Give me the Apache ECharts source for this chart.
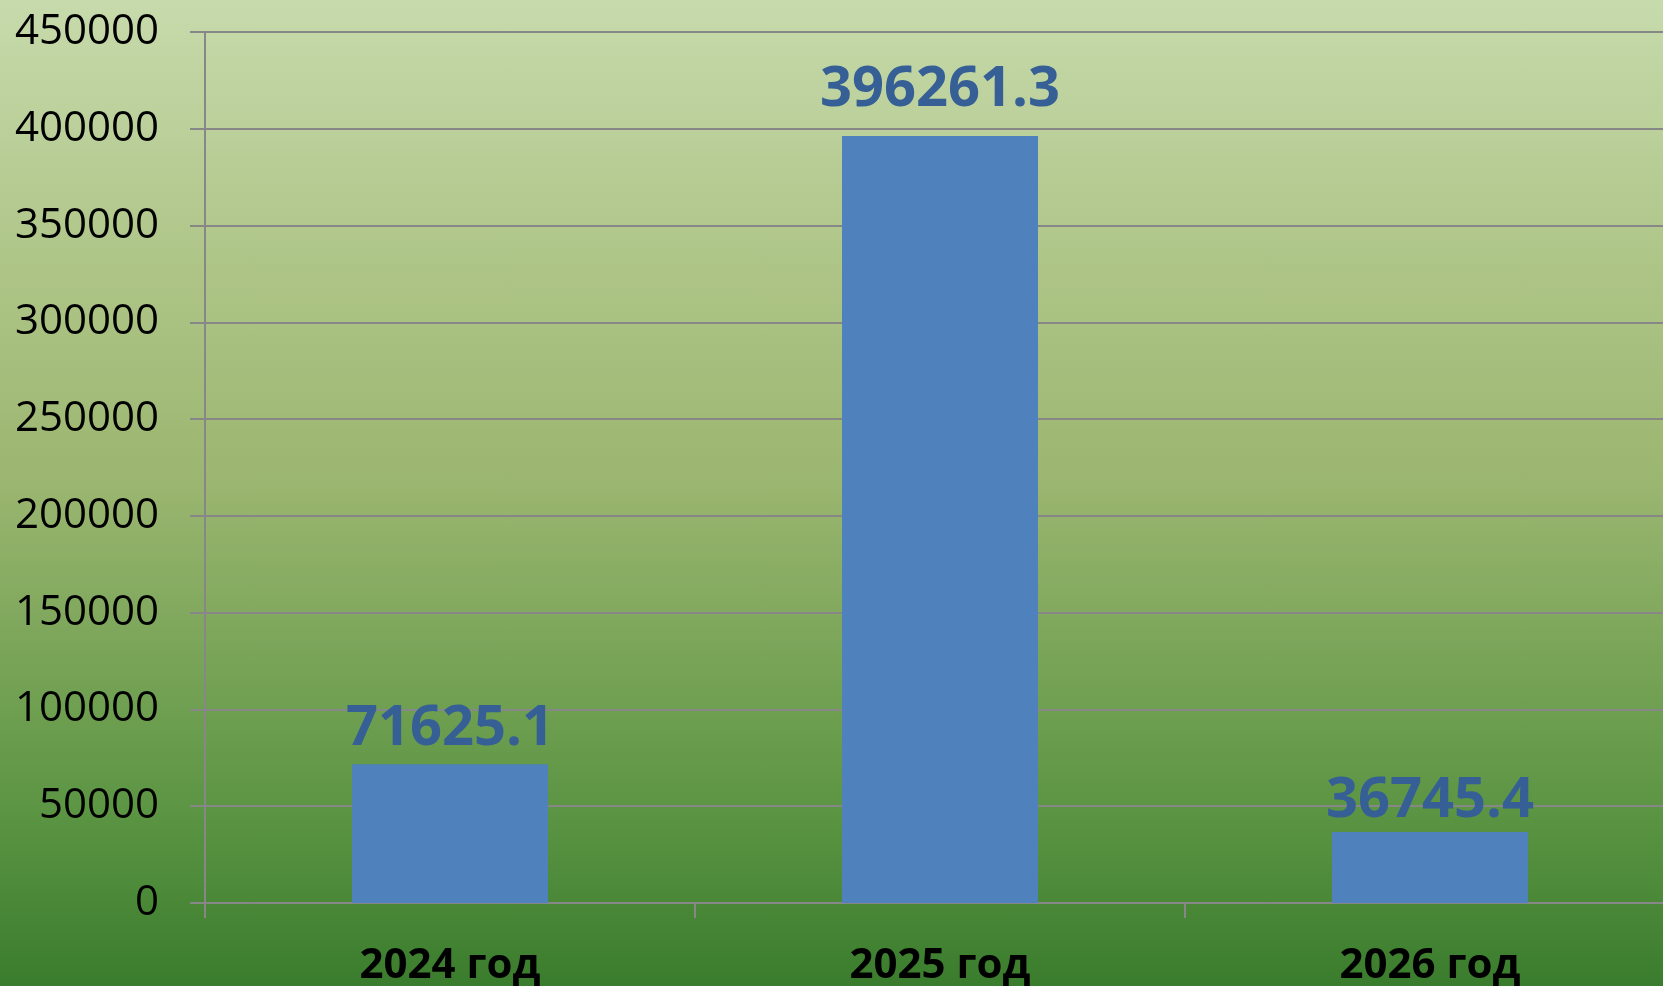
<!DOCTYPE html>
<html>
<head>
<meta charset="utf-8">
<script src="https://cdn.jsdelivr.net/npm/echarts@6/dist/echarts.min.js"></script>
<style>
html,body{margin:0;padding:0;}
#chart{width:1663px;height:986px;background:linear-gradient(to bottom,#c7daac 0%,#adc486 28%,#9bb670 49%,#7ea75c 64%,#5a9442 83%,#3a7c2d 100%);}
</style>
</head>
<body>
<div id="chart"></div>
<script>
const categories = ['2024 год', '2025 год', '2026 год'];
const values = [71625.1, 396261.3, 36745.4];
const yMin = 0, yMax = 450000, yInterval = 50000;

const labelGap = [7, 18, 3];

const chart = echarts.init(document.getElementById('chart'), null, {renderer: 'canvas'});
chart.setOption({
  backgroundColor: 'transparent',
  animation: false,
  grid: {left: 205, top: 32, bottom: 83, width: 1470, containLabel: false, outerBoundsMode: 'none'},
  xAxis: {
    type: 'category',
    data: categories,
    boundaryGap: true,
    axisLine: {show: true, lineStyle: {color: '#878787', width: 2}},
    axisTick: {show: true, length: 15, alignWithLabel: false, lineStyle: {color: '#878787', width: 2}},
    axisLabel: {fontFamily: 'Open Sans', fontWeight: 'bold', fontSize: 42, color: '#000', margin: 42, lineHeight: 42}
  },
  yAxis: {
    type: 'value',
    min: yMin, max: yMax, interval: yInterval,
    axisLine: {show: true, lineStyle: {color: '#878787', width: 2}},
    axisTick: {show: true, length: 15, lineStyle: {color: '#878787', width: 2}},
    splitLine: {show: true, lineStyle: {color: '#878787', width: 2}},
    axisLabel: {fontFamily: 'Open Sans', fontSize: 42, color: '#000', margin: 46, formatter: v => String(v)}
  },
  series: [{
    type: 'bar',
    data: values.map((v, i) => ({value: v, label: {distance: labelGap[i]}})),
    barWidth: '40%',
    itemStyle: {color: '#4f81bd'},
    label: {
      show: true, position: 'top',
      fontFamily: 'Open Sans', fontWeight: 'bold', fontSize: 56, lineHeight: 56,
      color: '#365f96',
      formatter: p => String(p.value)
    }
  }]
});
</script>
</body>
</html>
